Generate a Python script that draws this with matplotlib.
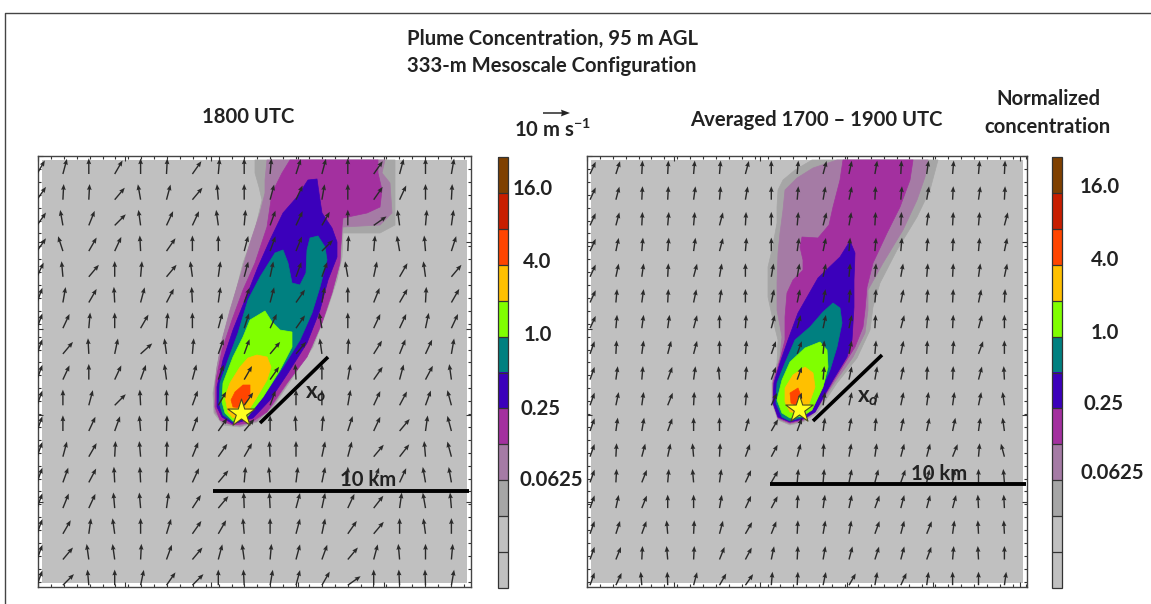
import numpy as np
import matplotlib
matplotlib.use('Agg')
import matplotlib.pyplot as plt
from matplotlib.cm import ScalarMappable
from matplotlib.colors import BoundaryNorm, ListedColormap
from matplotlib.patches import Polygon, Rectangle

W, H = 1151, 604

plt.rcParams['font.family'] = ['Lato', 'DejaVu Sans']
plt.rcParams['font.weight'] = 'bold'
plt.rcParams['mathtext.fontset'] = 'custom'
plt.rcParams['mathtext.rm'] = 'Lato:bold'
plt.rcParams['mathtext.it'] = 'Lato:italic:bold'
plt.rcParams['mathtext.bf'] = 'Lato:bold'

# normalized concentration levels, colours bottom to top
levels = [2.0 ** k for k in range(-7, 6)]
level_colors = ['#c0c0c0', '#c0c0c0', '#a6a6a6', '#a57ba5', '#a3309f', '#3b00bb',
                '#008080', '#80ff00', '#ffc000', '#ff4500', '#c81e00', '#7f4000']
tick_levels = [16.0, 4.0, 1.0, 0.25, 0.0625]
tick_labels = ['16.0', '4.0', '1.0', '0.25', '0.0625']

# wind direction, degrees clockwise from north, rows top to bottom
left_dir = [
    [30, 15, 0, 30, 0, 3, 35, 5, 0, 5, 18, 15, 0, 35, 15, 0, 10],
    [35, 3, 3, 40, -10, 15, 40, -5, 0, 15, 25, 10, 0, 35, 25, 0, 3],
    [35, -10, 22, 45, -8, 25, 25, -8, 5, 20, 25, 30, 0, 55, -8, 5, 8],
    [35, -18, 30, 25, -3, 35, 0, 0, 15, 20, 22, 45, 3, 5, -10, -5, 18],
    [25, -5, 40, 0, 5, 40, -8, 8, 15, 12, 20, 20, -10, 12, 30, -8, 40],
    [20, 10, 30, -3, 15, 28, -3, 8, 20, 15, 35, 10, 0, 22, 30, 3, 30],
    [20, 25, 5, 0, 30, 5, 0, 15, 18, 25, 35, -10, 0, 25, 25, 12, 25],
    [20, 40, -3, 12, 48, -8, 5, 20, 20, 40, 40, -8, 3, 32, 22, 25, 10],
    [20, 25, 0, 25, 20, -8, 15, 20, 30, 35, -3, 0, 10, 35, 15, 28, -8],
    [20, 0, 15, 45, -3, 0, 20, 30, 35, 20, 0, 0, 10, 25, 28, 20, -15],
    [20, 0, 25, 20, -5, 2, 20, 35, 40, 0, -3, 5, 18, 25, 40, 8, -15],
    [20, 15, 30, 3, -5, 2, 22, 35, 30, -3, 0, 12, 15, 40, 38, -5, -15],
    [20, 20, 28, -3, -3, 3, 25, 40, 5, -5, 7, 12, 0, 20, 25, -10, -10],
    [20, 22, 25, -5, -5, 8, 33, 40, -2, -3, 15, 12, 25, 38, 8, -10, -5],
    [20, 30, 8, -8, 0, 17, 35, 30, -5, 0, 15, 12, 35, 40, 0, -8, 0],
    [20, 40, -8, -8, 3, 20, 40, 15, -8, 5, 15, 20, 40, 15, -5, 0, 5],
    [20, 45, -5, 0, 12, 35, 45, 0, -3, 10, 15, 30, 55, 0, -3, -2, 10],
]
right_dir = [
    [25, 18, 3, 3, 5, 5, 15, 0, 5, 15, 12, 10, 3, 8, 5, 5, 3],
    [25, 15, 3, 3, 8, 5, 10, 0, 5, 10, 12, 3, 5, 10, 3, 8, 3],
    [25, 15, 3, 5, 5, 15, 3, 0, 5, 15, 10, 3, 3, 8, 3, 5, 15],
    [25, 12, 5, 5, 8, 15, 5, 0, 8, 12, 5, 5, 5, 5, 3, 5, 12],
    [25, 12, 8, 3, 15, 10, 0, 10, 10, 12, 5, 5, 10, 5, 3, 8, 12],
    [25, 5, 8, 3, 12, 8, 0, 12, 12, 10, 5, 5, 12, 5, 3, 12, 3],
    [25, 5, 8, 8, 15, 0, 3, 15, 15, 12, 12, 3, 15, 5, 3, 15, 0],
    [20, 3, 8, 15, 15, 0, 5, 20, 20, 5, 12, 5, 12, 3, 5, 20, 0],
    [20, 8, 5, 20, 8, -5, 5, 20, 20, 5, 12, 10, 12, 3, 3, 15, -3],
    [20, 12, 8, 22, 3, 0, 5, 25, 20, 8, 12, 10, 12, 8, 8, 12, -8],
    [20, 8, 10, 20, 0, 0, 15, 30, 20, 8, 10, 5, 12, 12, 12, 8, -8],
    [20, 3, 15, 12, -5, 3, 20, 28, 15, 3, 10, 8, 15, 15, 22, 5, -15],
    [20, 3, 22, 5, -5, 8, 25, 30, 5, 5, 12, 15, 20, 12, 10, 0, -5],
    [20, 12, 22, 0, 0, 10, 25, 28, 3, 8, 12, 20, 15, 15, 15, -3, -3],
    [20, 18, 20, -5, 3, 15, 30, 22, 3, 10, 10, 20, 15, 22, 8, -3, -3],
    [20, 22, 3, -5, 3, 22, 28, 12, 3, 10, 15, 18, 15, 20, 5, -3, 0],
    [20, 25, -5, -2, 15, 30, 35, 5, 3, 12, 30, 10, 25, 8, 0, 0, 8],
]
left_speed = 5.8
right_speed = 5.0
key_speed = 10.0

# plume contours, lowest level first
left_plume = [
    [(255, 160), (255, 173), (259, 187), (262, 200), (255, 230), (243, 263), (233, 303), (223, 337),
     (217, 367), (213, 393), (214, 413), (223, 425), (240, 427), (257, 422), (273, 407), (293, 377),
     (313, 347), (327, 310), (337, 280), (342, 257), (343, 233), (380, 233), (395, 225), (395, 160)],
    [(267, 160), (265, 180), (265, 193), (260, 213), (250, 243), (240, 277), (230, 310), (222, 340),
     (217, 367), (214, 393), (215, 412), (223, 423), (240, 426), (257, 421), (273, 405), (293, 375),
     (312, 347), (325, 310), (335, 280), (339, 257), (343, 227), (380, 225), (392, 213), (390, 183),
     (382, 173), (385, 160)],
    [(290, 160), (282, 173), (272, 193), (267, 227), (255, 263), (243, 290), (232, 320), (222, 350),
     (216, 380), (215, 407), (220, 420), (233, 425), (250, 423), (267, 412), (287, 383), (307, 357),
     (322, 323), (332, 293), (340, 263), (342, 227), (343, 218), (367, 213), (380, 207), (382, 190),
     (378, 173), (378, 160)],
    [(308, 180), (317, 179), (319, 193), (322, 213), (332, 228), (337, 242), (337, 257), (328, 280),
     (320, 310), (307, 343), (288, 373), (270, 400), (253, 418), (233, 424), (222, 417), (217, 407),
     (217, 387), (223, 360), (233, 330), (245, 300), (258, 267), (270, 240), (283, 213), (297, 197)],
    [(310, 238), (318, 236), (325, 247), (327, 260), (320, 287), (312, 313), (300, 340), (283, 367),
     (263, 397), (247, 417), (233, 422), (223, 415), (219, 403), (220, 383), (228, 360), (238, 333),
     (248, 300), (260, 277), (275, 253), (283, 250), (288, 263), (292, 283), (300, 285), (306, 273),
     (307, 250)],
    [(265, 311), (272, 322), (280, 330), (292, 332), (292, 347), (280, 370), (263, 397), (247, 417),
     (233, 421), (225, 413), (222, 402), (223, 383), (233, 357), (243, 337), (250, 320)],
    [(257, 355), (267, 357), (271, 367), (267, 380), (257, 397), (247, 413), (233, 418), (228, 412),
     (225, 397), (230, 383), (240, 367), (248, 358)],
    [(243, 385), (250, 385), (250, 395), (242, 408), (233, 407), (231, 400), (235, 392)],
]
right_plume = [
    [(812, 160), (795, 170), (783, 180), (778, 190), (777, 207), (777, 223), (772, 250), (768, 267),
     (768, 297), (773, 320), (778, 340), (777, 363), (772, 383), (772, 403), (778, 420), (790, 425),
     (803, 422), (817, 413), (837, 383), (857, 358), (870, 330), (873, 307), (880, 283), (897, 250),
     (917, 217), (930, 190), (938, 160)],
    [(837, 160), (813, 168), (797, 178), (785, 190), (783, 210), (780, 233), (778, 253), (777, 283),
     (777, 310), (782, 337), (780, 357), (773, 380), (773, 403), (778, 419), (790, 424), (803, 421),
     (815, 412), (835, 382), (853, 357), (865, 333), (868, 310), (868, 290), (883, 263), (903, 230),
     (917, 200), (925, 177), (928, 160)],
    [(843, 160), (840, 180), (833, 207), (829, 225), (818, 238), (802, 237), (800, 247), (803, 260),
     (803, 270), (793, 280), (787, 293), (785, 317), (785, 340), (780, 360), (773, 383), (773, 403),
     (778, 418), (790, 423), (803, 420), (815, 412), (833, 382), (848, 358), (855, 347), (863, 327),
     (865, 310), (867, 287), (873, 263), (887, 233), (900, 207), (910, 180), (913, 160)],
    [(850, 241), (855, 253), (854, 280), (854, 307), (852, 340), (847, 357), (833, 380), (815, 412),
     (803, 419), (790, 422), (778, 417), (773, 403), (774, 383), (780, 363), (788, 340), (798, 313),
     (818, 278), (840, 257)],
    [(833, 303), (840, 308), (842, 323), (837, 347), (830, 370), (815, 403), (803, 417), (790, 421),
     (782, 417), (776, 403), (777, 383), (785, 363), (795, 340), (810, 327), (823, 312)],
    [(820, 342), (827, 350), (828, 367), (823, 387), (812, 410), (803, 416), (790, 418), (782, 413),
     (777, 400), (782, 380), (790, 362), (805, 348)],
    [(805, 367), (813, 373), (815, 387), (808, 407), (800, 413), (790, 412), (785, 402), (785, 388),
     (793, 375)],
    [(790, 393), (798, 388), (802, 398), (795, 405), (791, 403)],
]
plume_colors = level_colors[2:10]

TEXT = '#222222'
FS = 14.6
fig = plt.figure(figsize=(W / 100, H / 100), dpi=100)


def px_axes(x0, y0, x1, y1):
    return fig.add_axes([x0 / W, 1 - y1 / H, (x1 - x0) / W, (y1 - y0) / H])


def draw_panel(box, plume, wind_dir, speed, x0, star, xo_line, xo_text, bar, bar_text):
    ax = px_axes(*box)
    ax.set_xlim(box[0], box[2])
    ax.set_ylim(box[3], box[1])
    ax.set_facecolor('white')
    ax.add_patch(Rectangle((box[0] + 4, box[1] + 4), box[2] - box[0] - 8, box[3] - box[1] - 8,
                           fc='#c0c0c0', ec='none', zorder=1))
    for pts, col in zip(plume, plume_colors):
        ax.add_patch(Polygon(pts, closed=True, fc=col, ec=col, lw=0.5, joinstyle='round', zorder=2))

    d = np.radians(np.array(wind_dir, dtype=float))
    xs = x0 + 25.9 * np.arange(d.shape[1])
    ys = 174 + 25.7 * np.arange(d.shape[0])
    xx, yy = np.meshgrid(xs, ys)
    ax.quiver(xx, yy, speed * np.sin(d), speed * np.cos(d), angles='uv', scale_units='dots',
              scale=1 / 2.7, units='dots', width=1.4, headwidth=3.4, headlength=4.2,
              headaxislength=3.8, pivot='tail', color='#2a2a2a', zorder=3)

    ax.plot(*zip(*xo_line), color='black', lw=2.6, solid_capstyle='butt', zorder=4)
    ax.plot(*zip(*bar), color='black', lw=2.8, solid_capstyle='butt', zorder=4, clip_on=False)
    ax.scatter([star[0]], [star[1]], marker='*', s=430, c='#ffff20', edgecolors='#4a4a20',
               linewidths=0.8, zorder=5)
    ax.text(xo_text[0], xo_text[1], r'x$_{\mathit{o}}$', fontsize=16, color=TEXT, ha='center',
            va='center', zorder=6)
    ax.text(bar_text[0], bar_text[1], '10 km', fontsize=FS, color=TEXT, ha='center', va='center',
            zorder=6)

    ax.set_xticks(np.arange(box[0], box[2], 86.6))
    ax.set_yticks(np.arange(box[1], box[3], 86.4))
    ax.set_xticks(np.arange(box[0], box[2], 12.9), minor=True)
    ax.set_yticks(np.arange(box[1], box[3], 12.9), minor=True)
    ax.tick_params(which='major', direction='in', length=3.5, width=0.8, top=True, right=True,
                   labelleft=False, labelbottom=False, color='#333333')
    ax.tick_params(which='minor', direction='in', length=2.2, width=0.8, top=True, right=True,
                   color='#333333')
    for s in ax.spines.values():
        s.set_color('#444444')
        s.set_linewidth(1.0)


def draw_colorbar(box, offsets):
    cax = px_axes(*box)
    cmap = ListedColormap(level_colors)
    norm = BoundaryNorm(levels, cmap.N)
    cb = fig.colorbar(ScalarMappable(norm=norm, cmap=cmap), cax=cax, spacing='uniform', drawedges=True)
    cb.set_ticks([])
    cb.minorticks_off()
    cb.outline.set_edgecolor('#333333')
    cb.outline.set_linewidth(0.9)
    cb.dividers.set_color('#333333')
    cb.dividers.set_linewidth(0.9)
    for lev, lab, off in zip(tick_levels, tick_labels, offsets):
        cax.annotate(lab, xy=(1, lev), xycoords=('axes fraction', 'data'), xytext=off,
                     textcoords='offset pixels', ha='center', va='center', fontsize=FS, color=TEXT)


draw_panel((38, 156, 471, 587), left_plume, left_dir, left_speed, 37, (241, 413),
           [(260, 423), (328, 357)], (316, 393), [(213, 491), (469, 491)], (368, 480))
draw_panel((587, 156, 1027, 587), right_plume, right_dir, right_speed, 590, (799, 409),
           [(813, 421), (882, 355)], (868, 397), [(770, 484), (1026, 484)], (939, 474))
draw_colorbar((498, 157, 508, 588), [(25, 4), (29, 3), (30, 2), (33, -1), (43, 0)])
draw_colorbar((1052, 157, 1062, 588), [(38, 6), (43, 5), (43, 4), (42, 4), (50, 7)])

over = fig.add_axes([0, 0, 1, 1], facecolor='none')
over.set_xlim(0, W)
over.set_ylim(H, 0)
over.axis('off')
over.plot([1151, 5, 5], [13, 13, 604], color='#444444', lw=1.0)
over.text(407, 39, 'Plume Concentration, 95 m AGL', fontsize=FS, color=TEXT, va='center')
over.text(407, 66, '333-m Mesoscale Configuration', fontsize=FS, color=TEXT, va='center')
over.text(248, 117, '1800 UTC', fontsize=FS, color=TEXT, ha='center', va='center')
over.text(816, 120, 'Averaged 1700 – 1900 UTC', fontsize=FS, color=TEXT, ha='center', va='center')
over.text(1048, 99, 'Normalized', fontsize=FS, color=TEXT, ha='center', va='center')
over.text(1048, 127, 'concentration', fontsize=FS, color=TEXT, ha='center', va='center')
over.text(552, 130, r'10 m s$^{-1}$', fontsize=FS, color=TEXT, ha='center', va='center')
over.quiver([543], [113], [key_speed], [0], angles='uv', scale_units='dots', scale=1 / 2.7,
            units='dots', width=1.5, headwidth=4.5, headlength=6, headaxislength=5.5,
            color='#222222')

fig.savefig('out.png', dpi=100, facecolor='white')
